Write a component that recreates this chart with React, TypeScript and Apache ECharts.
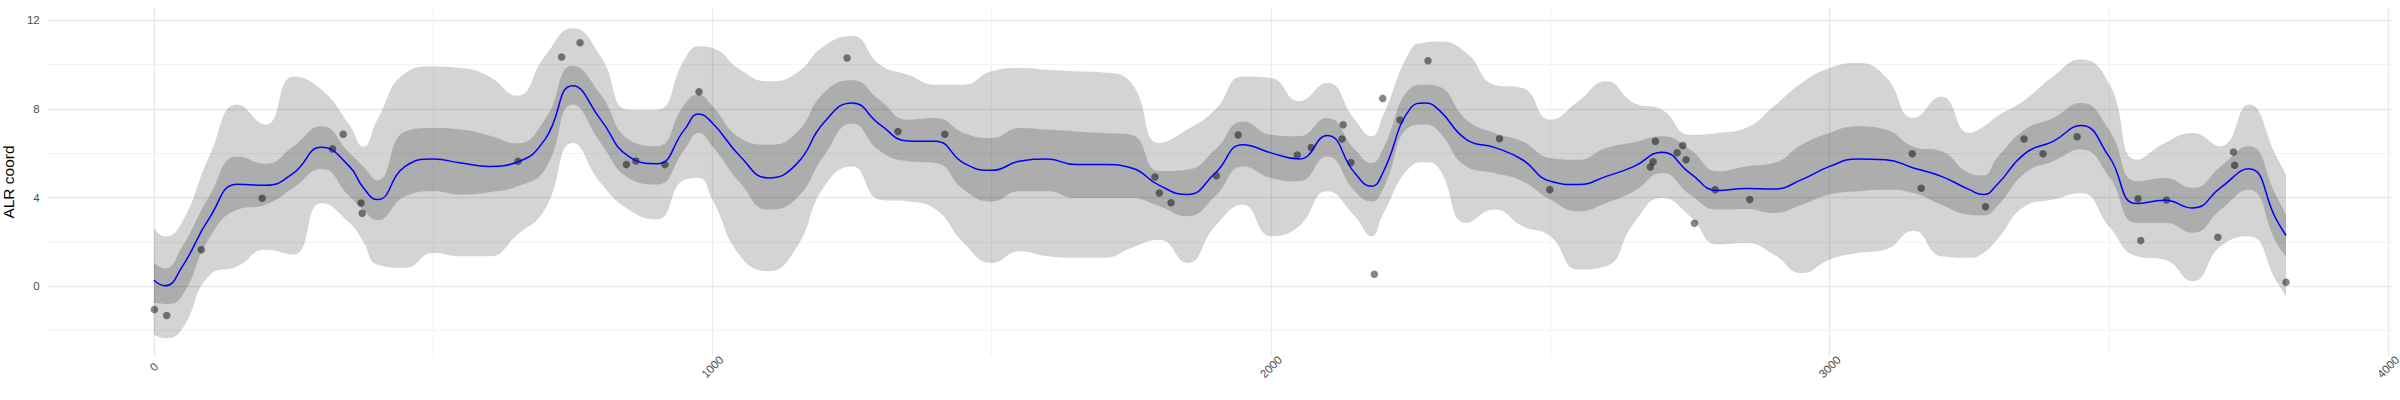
import React, { useEffect, useRef } from 'react';
import * as echarts from 'echarts';

const xs = [
  0, 20, 50, 100, 150, 200, 250, 300, 350, 375, 400, 450, 500, 550, 600, 650, 700, 750, 800, 850, 900,
  950, 975, 1000, 1050, 1100, 1150, 1200, 1250, 1300, 1350, 1400, 1450, 1500, 1550, 1600, 1650,
  1700, 1750, 1800, 1850, 1900, 1950, 2000, 2050, 2100, 2150, 2180, 2200, 2250, 2275, 2300, 2350,
  2400, 2450, 2500, 2550, 2600, 2650, 2700, 2750, 2800, 2850, 2900, 2950, 3000, 3050, 3100, 3150,
  3200, 3250, 3275, 3300, 3350, 3400, 3450, 3500, 3550, 3600, 3650, 3700, 3750, 3800, 3817,
];

// blue mean curve
const meanLine = [
  0.27, 0.02, 0.85, 3.1, 4.6, 4.56, 5.11, 6.27, 5.41, 4.45, 3.91, 5.41, 5.74, 5.56, 5.41, 5.6, 6.62, 9.05, 7.52, 5.86, 5.53,
  7.07, 7.77, 7.37, 5.86, 4.89, 5.5, 7.4, 8.27, 7.3, 6.56, 6.54, 5.56, 5.23, 5.64, 5.74, 5.49,
  5.49, 5.34, 4.55, 4.14, 5.11, 6.39, 6.02, 5.74, 6.8, 5.11, 4.51, 5.11, 8.05, 8.27, 7.97, 6.62,
  6.27, 5.71, 4.74, 4.59, 4.96, 5.41, 6.05, 5.11, 4.32, 4.41, 4.39, 4.81, 5.41, 5.74, 5.71, 5.34,
  4.96, 4.36, 4.14, 4.59, 6.0, 6.54, 7.25, 5.86, 3.73, 3.88, 3.53, 4.45, 5.3, 3.0, 2.29,
];

// dark inner band
const innerLo = [
  -0.75, -0.8, -0.45, 2.2, 3.46, 3.68, 4.44, 5.29, 4.06, 3.45, 2.98, 4.06, 4.29, 4.14, 4.24, 4.5, 5.26, 8.2, 6.47, 4.89, 4.59,
  6.17, 6.92, 6.32, 4.66, 3.46, 3.95, 5.9, 7.35, 6.1, 5.64, 5.56, 4.36, 3.83, 4.29, 4.29, 3.98,
  3.98, 3.98, 3.61, 3.16, 4.06, 5.41, 4.89, 4.74, 5.86, 4.29, 3.83, 4.36, 7.22, 7.3, 6.99, 5.41,
  5.11, 4.74, 3.91, 3.38, 3.76, 4.29, 5.11, 4.14, 3.46, 3.49, 3.31, 3.68, 4.14, 4.29, 4.36, 4.21,
  3.68, 3.23, 3.2, 3.61, 5.11, 5.64, 6.17, 4.96, 2.86, 2.86, 2.41, 3.46, 4.36, 1.95, 1.35,
];
const innerHi = [
  1.05, 0.8, 1.75, 4.1, 5.86, 5.53, 6.32, 7.22, 6.02, 5.4, 4.78, 6.99, 7.14, 7.07, 6.8, 6.45, 7.52, 9.95, 8.65, 6.62, 6.32,
  8.2, 8.65, 8.12, 6.69, 6.39, 6.92, 8.75, 9.3, 8.4, 7.52, 7.59, 6.92, 6.69, 7.14, 7.07, 6.99,
  6.92, 6.84, 5.2, 5.26, 6.17, 7.44, 6.84, 6.77, 7.59, 6.17, 5.56, 6.17, 8.95, 9.1, 9.02, 7.52,
  6.92, 6.54, 5.79, 5.71, 6.24, 6.5, 6.77, 6.17, 5.19, 5.41, 5.56, 6.39, 6.92, 7.22, 7.07, 6.3,
  6.09, 5.11, 5.0, 5.8, 7.07, 7.59, 8.27, 7.07, 4.74, 4.89, 4.44, 5.41, 6.32, 4.06, 3.23,
];

// light outer band
const outerLo = [
  -2.18, -2.35, -1.95, 0.5, 0.9, 1.65, 1.43, 3.76, 2.86, 2.0, 0.98, 0.83, 1.5, 1.35, 1.35, 2.3, 3.46, 6.47, 4.66, 3.46, 3.01,
  4.81, 4.89, 3.91, 1.35, 0.68, 1.72, 4.5, 5.4, 3.9, 3.83, 3.46, 1.95, 1.05, 1.58, 1.35, 1.28,
  1.28, 1.73, 2.1, 1.05, 2.71, 3.68, 2.26, 2.71, 4.29, 3.16, 2.26, 3.23, 5.41, 5.6, 5.34, 2.86,
  3.46, 2.71, 2.26, 0.75, 0.9, 2.86, 3.98, 3.16, 1.88, 1.95, 1.43, 0.6, 1.2, 1.5, 1.65, 2.5,
  1.35, 1.28, 1.5, 2.11, 3.61, 3.91, 4.21, 2.71, 1.35, 1.2, 0.23, 1.8, 2.26, 0.23, -0.45,
];
const outerHi = [
  2.63, 2.25, 2.86, 5.9, 8.2, 7.29, 9.47, 8.87, 7.29, 6.3, 7.52, 9.62, 9.92, 9.85, 9.47, 8.6, 10.38, 11.65, 10.38, 7.97, 7.97,
  10.23, 10.83, 10.75, 9.77, 9.25, 9.62, 10.85, 11.3, 10.0, 9.55, 9.1, 9.1, 9.7, 9.85, 9.77, 9.7,
  9.65, 9.17, 6.47, 7.07, 7.97, 9.47, 9.4, 8.35, 9.17, 7.52, 6.77, 7.67, 10.68, 11.0, 11.05, 10.53,
  9.1, 8.95, 7.52, 8.35, 9.25, 8.27, 7.97, 6.84, 6.92, 7.14, 8.12, 9.17, 9.85, 10.08, 9.47, 7.6,
  8.57, 6.92, 7.2, 7.67, 8.42, 9.47, 10.23, 9.17, 5.71, 6.47, 6.92, 6.32, 8.2, 5.86, 5.04,
];

// observed points
const pointX = [
  1, 23, 85, 194, 320, 339, 371, 373, 652, 730, 763, 846, 863, 915, 976, 1241, 1332, 1416, 1792, 1800,
  1821, 1902, 1941, 2047, 2072, 2129, 2127, 2143, 2185, 2200, 2231, 2281, 2409, 2499, 2688, 2684, 2679,
  2727, 2737, 2743, 2758, 2795, 2857, 3148, 3164, 3279, 3348, 3382, 3443, 3552, 3557, 3603, 3695, 3723,
  3725, 3817,
];
const pointY = [
  -1.05, -1.32, 1.65, 3.97, 6.2, 6.86, 3.76, 3.29, 5.64, 10.35, 10.99, 5.49, 5.65, 5.49, 8.78, 10.3, 6.98, 6.86, 4.93, 4.21,
  3.77, 4.99, 6.83, 5.92, 6.26, 7.29, 6.65, 5.58, 0.54, 8.48, 7.5, 10.18, 6.66, 4.36, 6.54, 5.62, 5.38,
  6.02, 6.35, 5.71, 2.84, 4.36, 3.91, 5.98, 4.42, 3.59, 6.65, 5.98, 6.75, 3.95, 2.06, 3.89, 2.21, 6.06,
  5.46, 0.18,
];

const xTicks = [0, 1000, 2000, 3000, 4000];
const xMinor = [500, 1500, 2500, 3500];
const yTicks = [0, 4, 8, 12];
const yMinor = [-2, 2, 6, 10];

const font = '"Liberation Sans", Arial, Helvetica, sans-serif';

export default function App() {
  const chartRef = useRef<HTMLDivElement>(null);

  useEffect(() => {
    if (!chartRef.current) return;
    const chart = echarts.init(chartRef.current, null, { renderer: 'svg' });

    const pair = (ys: number[]) => xs.map((x, i) => [x, ys[i]]);
    // band rows are [value, x] so that the stack runs on the y value, not on x
    const stackRows = (ys: number[]) => xs.map((x, i) => [ys[i], x]);
    const gap = (hi: number[], lo: number[]) => xs.map((x, i) => [+(hi[i] - lo[i]).toFixed(3), x]);

    const major = { color: '#EBEBEB', width: 1.4, type: 'solid' };
    const minor = { color: '#F0F0F0', width: 0.8, type: 'solid' };
    const gridData = [
      ...xMinor.map((v) => ({ xAxis: v, lineStyle: minor })),
      ...yMinor.map((v) => ({ yAxis: v, lineStyle: minor })),
      ...xTicks.map((v) => ({ xAxis: v, lineStyle: major })),
      ...yTicks.map((v) => ({ yAxis: v, lineStyle: major })),
    ];

    const band = (name: string, lo: number[], hi: number[], fill: string) => [
      {
        name: name + '-base',
        type: 'line',
        data: stackRows(lo),
        encode: { x: 1, y: 0 },
        stack: name,
        stackStrategy: 'all',
        smooth: true,
        symbol: 'none',
        silent: true,
        lineStyle: { opacity: 0 },
      },
      {
        name,
        type: 'line',
        data: gap(hi, lo),
        encode: { x: 1, y: 0 },
        stack: name,
        stackStrategy: 'all',
        smooth: true,
        symbol: 'none',
        silent: true,
        lineStyle: { opacity: 0 },
        areaStyle: { color: fill, opacity: 1 },
      },
    ];

    const option = {
      animation: false,
      grid: { left: 47.7, right: 7.3, top: 8, bottom: 44, outerBoundsMode: 'none' },
      xAxis: {
        type: 'value',
        min: -190,
        max: 4008,
        axisLine: { show: false },
        axisTick: { show: false },
        splitLine: { show: false },
        axisLabel: {
          customValues: xTicks,
          formatter: (v: number) => String(v),
          rotate: 45,
          align: 'center',
          verticalAlign: 'middle',
          margin: 11,
          fontSize: 11.5,
          color: '#4D4D4D',
          fontFamily: font,
        },
      },
      yAxis: {
        type: 'value',
        min: -3.15,
        max: 12.56,
        name: 'ALR coord',
        nameLocation: 'middle',
        nameGap: 24,
        nameRotate: 90,
        nameTextStyle: { fontSize: 15.5, color: '#000000', fontFamily: font },
        axisLine: { show: false },
        axisTick: { show: false },
        splitLine: { show: false },
        axisLabel: {
          customValues: yTicks,
          formatter: (v: number) => String(v),
          margin: 8,
          fontSize: 11.5,
          color: '#4D4D4D',
          fontFamily: font,
        },
      },
      series: [
        {
          name: 'grid',
          type: 'line',
          data: [],
          silent: true,
          z: 0,
          markLine: {
            silent: true,
            z: 0,
            symbol: ['none', 'none'],
            label: { show: false },
            emphasis: { disabled: true },
            data: gridData,
          },
        },
        ...band('outer', outerLo, outerHi, 'rgba(0,0,0,0.17)'),
        ...band('inner', innerLo, innerHi, 'rgba(0,0,0,0.185)'),
        {
          name: 'mean',
          type: 'line',
          data: pair(meanLine),
          smooth: true,
          symbol: 'none',
          lineStyle: { color: '#0000FF', width: 1.5 },
        },
        {
          name: 'obs',
          type: 'scatter',
          data: pointX.map((x, i) => [x, pointY[i]]),
          symbolSize: 7.5,
          itemStyle: { color: 'rgba(0,0,0,0.6)' },
        },
      ],
    };

    chart.setOption(option as any);

    return () => {
      chart.dispose();
    };
  }, []);

  return (
    <div
      ref={chartRef}
      style={{ position: 'absolute', left: 0, top: 0, width: '2400px', height: '400px' }}
    />
  );
}
